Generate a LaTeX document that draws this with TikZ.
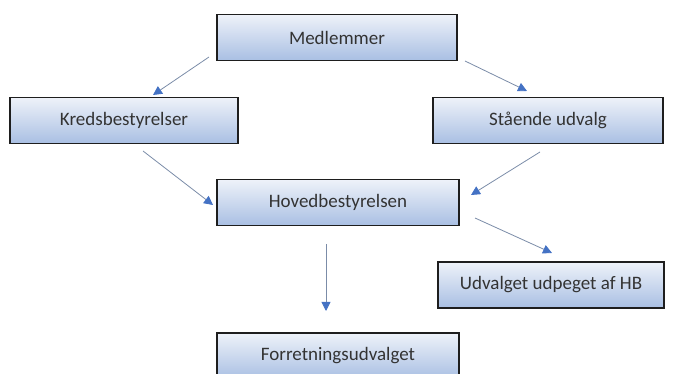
\documentclass[tikz,border=0pt]{standalone}
\usepackage{fontspec}
\setmainfont{Carlito}
\usetikzlibrary{arrows.meta}
\definecolor{boxtop}{HTML}{EEF2F9}
\definecolor{boxbot}{HTML}{A9BFE3}
\definecolor{boxline}{HTML}{1E1E1E}
\definecolor{arrline}{HTML}{7B8CA8}
\definecolor{arrtip}{HTML}{4472C4}
\tikzset{
  orgbox/.style={draw=boxline, line width=1.3pt, top color=boxtop, bottom color=boxbot,
    minimum height=46pt, inner sep=0pt, font=\fontsize{19}{22}\selectfont, text=black!80},
  link/.style={draw=arrline, line width=0.8pt,
    -{Triangle[length=9pt,width=9pt,fill=arrtip,color=arrtip]}, shorten >=0pt}
}
\begin{document}
\begin{tikzpicture}[x=1pt,y=1pt]
\useasboundingbox (0,0) rectangle (673,374);
\node[orgbox, minimum width=240pt] (med) at (337,336.5) {Medlemmer};
\node[orgbox, minimum width=228pt] (kreds) at (124,253.5) {Kredsbestyrelser};
\node[orgbox, minimum width=230pt] (staa) at (548,253.5) {Stående udvalg};
\node[orgbox, minimum width=242pt] (hoved) at (338,171.5) {Hovedbestyrelsen};
\node[orgbox, minimum width=226pt] (udv) at (551,89) {Udvalget udpeget af HB};
\node[orgbox, minimum width=242pt] (forr) at (338,18) {Forretningsudvalget};
\coordinate (a1s) at (209,317);
\coordinate (a1e) at (153,279);
\coordinate (a2s) at (465,313);
\coordinate (a2e) at (527,283);
\coordinate (a3s) at (143,223);
\coordinate (a3e) at (213,169);
\coordinate (a4s) at (540,222);
\coordinate (a4e) at (471,179);
\coordinate (a5s) at (326,130);
\coordinate (a5e) at (326,63);
\coordinate (a6s) at (475,156);
\coordinate (a6e) at (552,121);
\draw[link] (a1s) -- (a1e);
\draw[link] (a2s) -- (a2e);
\draw[link] (a3s) -- (a3e);
\draw[link] (a4s) -- (a4e);
\draw[link] (a5s) -- (a5e);
\draw[link] (a6s) -- (a6e);
\end{tikzpicture}
\end{document}
